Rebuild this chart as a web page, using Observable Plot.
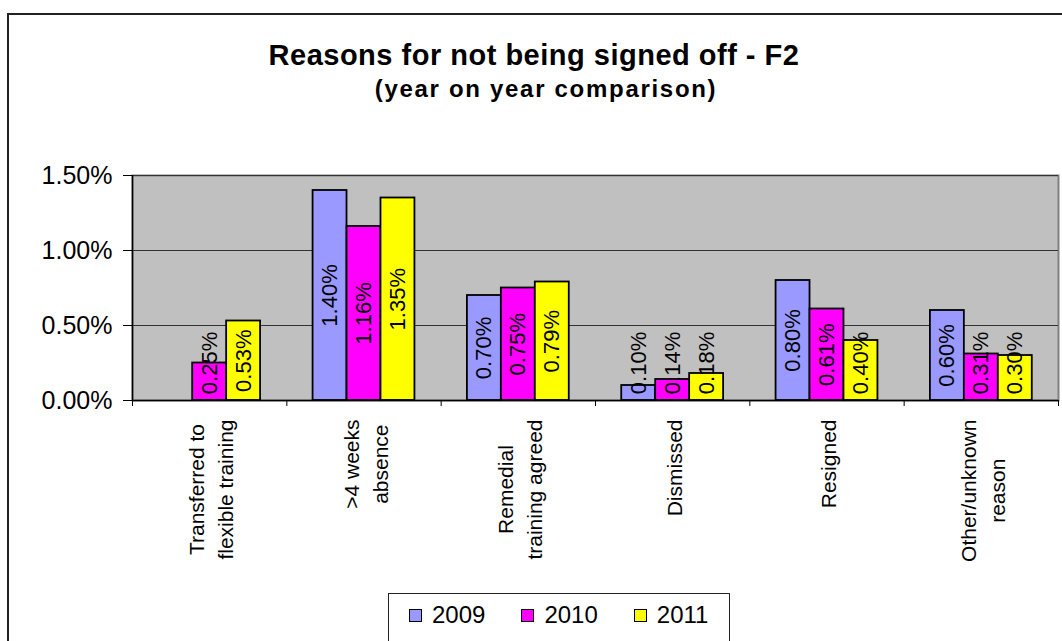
<!DOCTYPE html>
<html><head><meta charset="utf-8">
<script src="https://cdn.jsdelivr.net/npm/d3@7"></script>
<script src="https://cdn.jsdelivr.net/npm/@observablehq/plot@0.6"></script>
<style>
html,body{margin:0;padding:0;overflow:hidden;background:#fff;width:1062px;height:641px;}
body{position:relative;font-family:"Liberation Sans",Arial,sans-serif;color:#000;}
#frame{position:absolute;left:7px;top:13px;width:1100px;height:700px;border-left:2px solid #222;border-top:2px solid #222;}
#title{position:absolute;left:0;width:1068px;top:41px;text-align:center;font-weight:bold;font-size:29px;line-height:29px;letter-spacing:0.5px;}
#subtitle{position:absolute;left:0;width:1092px;top:77px;text-align:center;font-weight:bold;font-size:24px;line-height:24px;letter-spacing:1.7px;}
#chart{position:absolute;left:0;top:150px;}
#legend{position:absolute;left:388px;top:593px;width:342px;border:1px solid #222;box-sizing:border-box;padding:7px 0 20px 20px;display:flex;align-items:center;}
.item{display:flex;align-items:center;margin-right:36px;font-size:24px;line-height:28px;}
.sw{width:11px;height:11px;border:1.5px solid #000;margin-right:10px;}
</style>
</head><body>
<div id="frame"></div>
<div id="title">Reasons for not being signed off - F2</div>
<div id="subtitle">(year on year comparison)</div>
<div id="chart"></div>
<div id="legend"></div>
<script>
const categories = ["Transferred to\nflexible training", ">4 weeks\nabsence", "Remedial\ntraining agreed", "Dismissed", "Resigned", "Other/unknown\nreason"];
const years = ["2009", "2010", "2011"];
const values2009 = [null, 1.40, 0.70, 0.10, 0.80, 0.60];
const values2010 = [0.25, 1.16, 0.75, 0.14, 0.61, 0.31];
const values2011 = [0.53, 1.35, 0.79, 0.18, 0.40, 0.30];
const yTicks = [0, 0.5, 1.0, 1.5];
const colors = ["#9999FF", "#FF00FF", "#FFFF00"];

const series = [values2009, values2010, values2011];
const barW = 0.22; // fraction of a category slot
const rows = [];
categories.forEach((c, i) => {
  series.forEach((vals, j) => {
    if (vals[i] != null) {
      const x1 = i + 0.5 + (j - 1.5) * barW;
      rows.push({cat: c, i, j, year: years[j], v: vals[i], x1, x2: x1 + barW, xc: x1 + barW / 2});
    }
  });
});
const fmt = d => d.toFixed(2) + "%";

const ctx = document.createElement("canvas").getContext("2d");
ctx.font = "21px 'Liberation Sans'";
const catMarks = categories.map((c, i) => {
  const maxLen = d3.max(c.split("\n"), s => ctx.measureText(s).width);
  return Plot.text([c], {
    x: () => i + 0.5, y: () => 0, text: d => d,
    rotate: -90, textAnchor: "middle", lineAnchor: "middle", lineHeight: 1.38,
    fontSize: 21, dy: 19 + maxLen / 2, fill: "#000"
  });
});

const chart = Plot.plot({
  width: 1062, height: 440,
  marginLeft: 132, marginRight: 4, marginTop: 25, marginBottom: 190,
  x: {domain: [0, categories.length], axis: null},
  y: {domain: [0, 1.5], axis: null},
  color: {domain: years, range: colors},
  style: {fontFamily: "'Liberation Sans', Arial, sans-serif", fontSize: "21px", background: "transparent", overflow: "visible", color: "#000"},
  marks: [
    Plot.frame({fill: "#C0C0C0", stroke: "#808080", strokeWidth: 2}),
    Plot.gridY(yTicks, {stroke: "#333", strokeOpacity: 1, strokeWidth: 1}),
    Plot.rectY(rows, {x1: "x1", x2: "x2", y: "v", fill: "year", stroke: "#000", strokeWidth: 1.8}),
    Plot.text(rows, {x: "xc", y: d => Math.max(d.v / 2, 0.25), text: d => fmt(d.v), rotate: -90, fontSize: 22, fill: "#000"}),
    Plot.ruleY([0], {stroke: "#000", strokeWidth: 1.5}),
    Plot.ruleX([0], {stroke: "#000", strokeWidth: 1.5}),
    Plot.axisY(yTicks, {tickSize: 9, tickPadding: 11, fontSize: 25, tickFormat: fmt, label: null, stroke: "#000"}),
    Plot.axisX(d3.range(categories.length + 1), {tickSize: 6, tickFormat: () => "", label: null, stroke: "#000"}),
    ...catMarks
  ]
});
document.getElementById("chart").appendChild(chart);

const legend = document.getElementById("legend");
years.forEach((y, j) => {
  const item = document.createElement("div");
  item.className = "item";
  const sw = document.createElement("div");
  sw.className = "sw";
  sw.style.background = colors[j];
  const t = document.createElement("span");
  t.textContent = y;
  item.appendChild(sw); item.appendChild(t);
  legend.appendChild(item);
});
</script>
</body></html>
